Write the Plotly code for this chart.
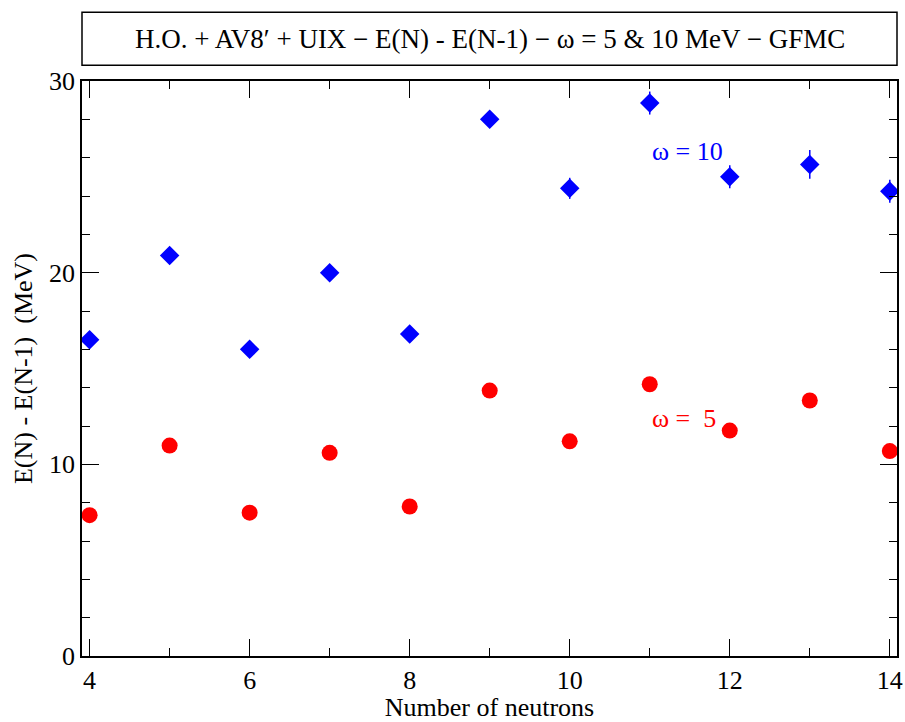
import plotly.graph_objects as go

neutrons = [4, 5, 6, 7, 8, 9, 10, 11, 12, 13, 14]
e_w10 = [16.5, 20.9, 16.0, 20.0, 16.8, 28.0, 24.4, 28.85, 25.0, 25.65, 24.25]
err_w10 = [0.2, 0.3, 0.3, 0.3, 0.3, 0.4, 0.55, 0.6, 0.6, 0.75, 0.6]
e_w5 = [7.35, 10.98, 7.48, 10.6, 7.8, 13.85, 11.2, 14.18, 11.76, 13.33, 10.69]

SERIF = "Liberation Serif"

fig = go.Figure()
fig.add_trace(go.Scatter(
    x=neutrons, y=e_w10, mode="markers",
    marker=dict(symbol="diamond", size=15, color="#0000ff"),
    error_y=dict(type="data", array=err_w10, color="#0000ff", thickness=1.5, width=0),
    showlegend=False))
fig.add_trace(go.Scatter(
    x=neutrons, y=e_w5, mode="markers",
    marker=dict(symbol="circle", size=16, color="#ff0000"),
    showlegend=False))

axis_common = dict(
    showgrid=False, zeroline=False, showline=True, linecolor="black", linewidth=1.5,
    mirror="ticks", ticks="inside", ticklen=17, tickwidth=1.2, tickcolor="black",
    tickfont=dict(family=SERIF, size=26, color="black"), automargin=False,
)
fig.update_xaxes(range=[3.905, 14.09], tickvals=[4, 6, 8, 10, 12, 14],
                 minor=dict(tickvals=[5, 7, 9, 11, 13], ticks="inside", ticklen=8.5,
                            tickcolor="black", tickwidth=1.2),
                 title=dict(text="Number of neutrons", font=dict(family=SERIF, size=26, color="black"),
                            standoff=6),
                 **axis_common)
fig.update_yaxes(range=[0, 30], tickvals=[0, 10, 20, 30],
                 minor=dict(tickvals=[2, 4, 6, 8, 12, 14, 16, 18, 22, 24, 26, 28], ticks="inside",
                            ticklen=8.5, tickcolor="black", tickwidth=1.2),
                 title=dict(text="E(N) - E(N-1)  (MeV)", font=dict(family=SERIF, size=26, color="black"),
                            standoff=9),
                 **axis_common)

fig.add_annotation(x=11, y=26.3, xref="x", yref="y", text="ω = 10", showarrow=False,
                   xanchor="left", yanchor="middle",
                   font=dict(family=SERIF, size=26, color="#0000ff"))
fig.add_annotation(x=11, y=12.4, xref="x", yref="y", text="ω =  5", showarrow=False,
                   xanchor="left", yanchor="middle",
                   font=dict(family=SERIF, size=26, color="#ff0000"))

# title box
fig.add_shape(type="rect", xref="paper", yref="paper", x0=0, x1=1, y0=1.0273, y1=1.1195,
              line=dict(color="black", width=1.5), fillcolor="white")
fig.add_annotation(x=0.5, y=1.0734, xref="paper", yref="paper", showarrow=False,
                   text="H.O. + AV8′ + UIX − E(N) - E(N-1) − ω = 5 &amp; 10 MeV − GFMC",
                   xanchor="center", yanchor="middle",
                   font=dict(family=SERIF, size=27, color="black"))

fig.update_layout(width=905, height=722, margin=dict(l=82, r=8, t=81, b=66, autoexpand=False),
                  paper_bgcolor="white", plot_bgcolor="white")
fig.write_html("out.html", config={"displayModeBar": False},
               post_script="document.body.style.margin='0';document.body.style.overflow='hidden';")
